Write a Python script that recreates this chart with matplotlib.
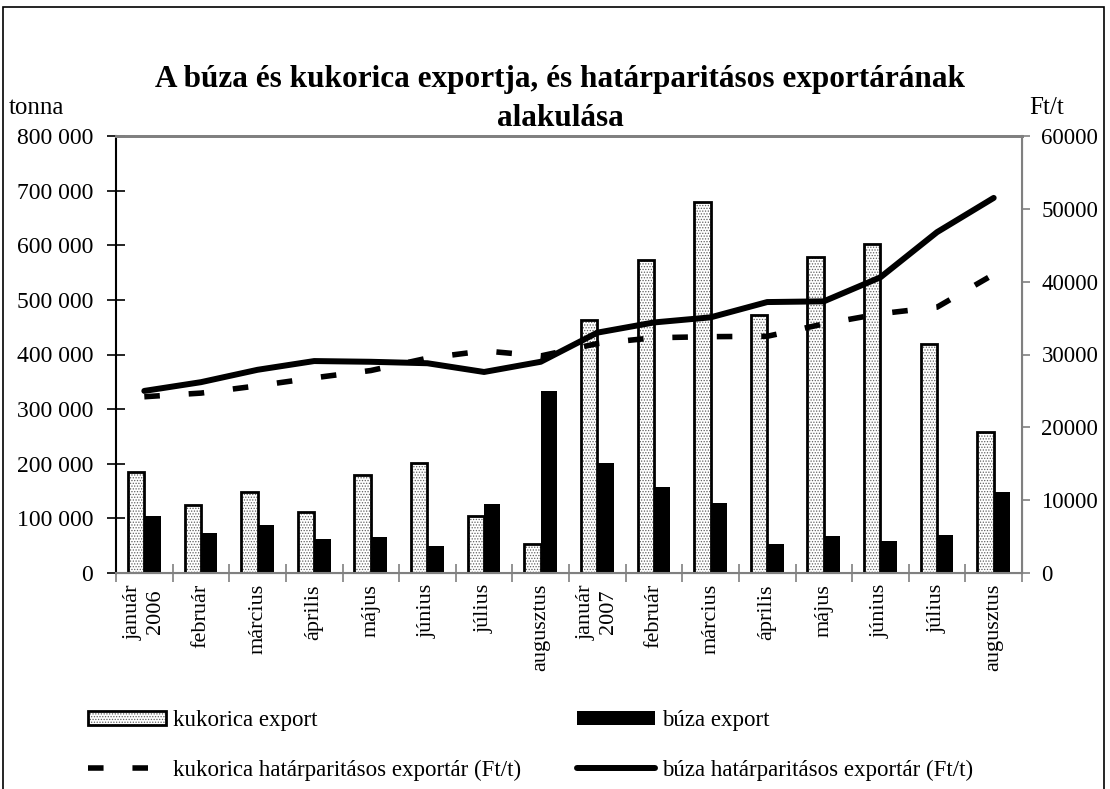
import numpy as np
import matplotlib
matplotlib.use('Agg')
import matplotlib.pyplot as plt
from matplotlib.patches import Patch, Rectangle
from matplotlib.lines import Line2D
from matplotlib.ticker import FuncFormatter

plt.rcParams['font.family'] = ['Liberation Serif', 'DejaVu Serif']
plt.rcParams['hatch.linewidth'] = 0.6

# adatok (leolvasva)
honapok = ['január\n2006', 'február', 'március', 'április', 'május', 'június',
           'július', 'augusztus', 'január\n2007', 'február', 'március', 'április',
           'május', 'június', 'július', 'augusztus']
kukorica_export = [185000, 124000, 148000, 111000, 180000, 201000, 105000, 53000,
                   463000, 573000, 679000, 472000, 578000, 603000, 419000, 259000]
buza_export = [105000, 73000, 87000, 63000, 65000, 49000, 126000, 334000,
               201000, 157000, 128000, 54000, 68000, 59000, 70000, 148000]
kukorica_ar = [24200, 24700, 25700, 26800, 27800, 29500, 30500, 29800,
               31500, 32300, 32450, 32500, 34200, 35600, 36500, 41000]
buza_ar = [25000, 26200, 27900, 29100, 29000, 28800, 27600, 29000,
           33000, 34400, 35100, 37200, 37300, 40600, 46800, 51500]

fs = 16.5
x = np.arange(len(honapok))
w = 0.29

fig = plt.figure(figsize=(11.1, 7.89), dpi=100)
ax = fig.add_axes([116/1110, 1-573/789, (1022-116)/1110, (573-136)/789])
ax2 = ax.twinx()

# kukorica oszlopok: pontozott kitoltes + fekete keret
ax.bar(x - w/2, kukorica_export, w, color='white', edgecolor='#606060',
       hatch='......', linewidth=0)
ax.bar(x - w/2, kukorica_export, w, fill=False, edgecolor='black', linewidth=2)
ax.bar(x + w/2, buza_export, w, color='black', linewidth=0)

ax2.plot(x, kukorica_ar, color='black', lw=4, dashes=(2.8, 5.2),
         dash_capstyle='butt')
ax2.plot(x, buza_ar, color='black', lw=4.3, solid_capstyle='round',
         solid_joinstyle='round')

ax.set_xlim(-0.5, len(honapok) - 0.5)
ax.set_ylim(0, 800000)
ax2.set_ylim(0, 60000)
ax.set_yticks(np.arange(0, 800001, 100000))
ax2.set_yticks(np.arange(0, 60001, 10000))
ax.yaxis.set_major_formatter(FuncFormatter(lambda v, p: '{:,}'.format(int(v)).replace(',', ' ')))
ax2.yaxis.set_major_formatter(FuncFormatter(lambda v, p: '%d' % v))

ax.set_xticks(np.arange(-0.5, len(honapok)), minor=False)
ax.set_xticklabels([])
ax.set_xticks(x, minor=True)
ax.set_xticklabels(honapok, minor=True, rotation=90, fontsize=16,
                   multialignment='center')
ax.tick_params(axis='x', which='major', direction='inout', length=13,
               width=1.2, color='#808080')
ax.tick_params(axis='x', which='minor', length=0, pad=8)
ax.tick_params(axis='y', direction='inout', length=13, width=1.2,
               labelsize=17, pad=10)
ax2.tick_params(axis='y', direction='out', length=6, width=1.2,
                color='#808080', labelsize=fs, pad=8)

for s in ['top', 'bottom', 'right']:
    ax.spines[s].set_color('#808080')
    ax2.spines[s].set_color('#808080')
ax.spines['top'].set_linewidth(2)
ax2.spines['top'].set_linewidth(2)
ax.spines['bottom'].set_linewidth(1.5)
ax.spines['left'].set_linewidth(1.5)
ax2.spines['left'].set_visible(False)
ax2.spines['right'].set_linewidth(1.5)

fig.text(0.5045, 1-80/789, 'A búza és kukorica exportja, és határparitásos exportárának',
         ha='center', va='center', fontsize=22.5, fontweight='bold')
fig.text(0.5045, 1-118/789, 'alakulása', ha='center', va='center',
         fontsize=22.5, fontweight='bold')
fig.text(9/1110, 1-108/789, 'tonna', ha='left', va='center', fontsize=18)
fig.text(1029/1110, 1-108/789, 'Ft/t', ha='left', va='center', fontsize=18)

# jelmagyarazat
h_kuk = (Patch(facecolor='white', edgecolor='#606060', hatch='......', linewidth=0),
         Patch(fill=False, edgecolor='black', linewidth=2))
h_buza = Patch(facecolor='black', linewidth=0)
h_kuk_ar = Line2D([], [], color='black', lw=4, dashes=(2.8, 5.2), dash_capstyle='butt')
h_buza_ar = Line2D([], [], color='black', lw=4.3, solid_capstyle='round')
fig.legend([h_kuk, h_kuk_ar, h_buza, h_buza_ar],
           ['kukorica export', 'kukorica határparitásos exportár (Ft/t)',
            'búza export', 'búza határparitásos exportár (Ft/t)'],
           ncol=2, loc='upper left', bbox_to_anchor=(72/1110, 1-694/789),
           frameon=False, fontsize=fs, handlelength=3.4, handleheight=0.6,
           handletextpad=0.3, columnspacing=2.45, labelspacing=1.25,
           borderpad=0.2)

fig.patches.append(Rectangle((3/1110, -0.01), (1104-3)/1110, 1.01-7/789,
                             transform=fig.transFigure, fill=False,
                             edgecolor='black', linewidth=1.2))

fig.savefig('out.png', dpi=100)
